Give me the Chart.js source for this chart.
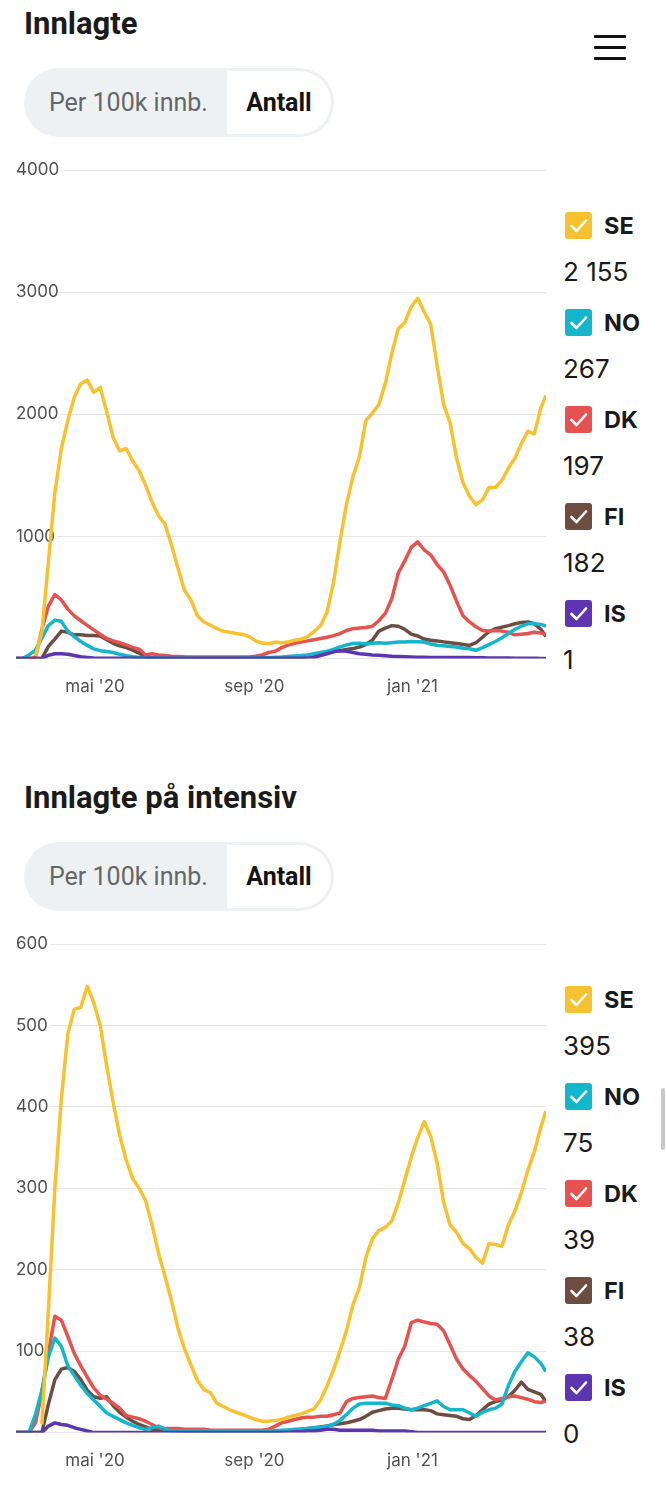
<!DOCTYPE html>
<html lang="no">
<head>
<meta charset="utf-8">
<title>Innlagte</title>
<script src="https://cdn.jsdelivr.net/npm/chart.js@4/dist/chart.umd.min.js"></script>
<style>
  body { margin: 0; background: #fff; font-family: Inter, Roboto, sans-serif; }
  #page { position: relative; width: 666px; height: 1499px; overflow: hidden; }
  .section { position: absolute; left: 0; width: 666px; height: 774px; }
  .title { position: absolute; left: 24px; top: 5px; margin: 0; font: 700 31px Roboto, sans-serif; line-height: 38px; color: #1b1b1b; white-space: nowrap; }
  .burger { position: absolute; left: 594px; top: 35px; width: 32px; }
  .burger span { display: block; height: 3px; background: #111; margin-bottom: 8px; border-radius: 1px; }
  .pill { position: absolute; left: 24px; top: 68px; width: 310px; height: 69px; border-radius: 35px; background: #eef1f4; overflow: hidden; }
  .pill .off { position: absolute; left: 25px; top: 0; font: 400 25px Roboto, sans-serif; line-height: 69px; color: #666; }
  .pill .on { position: absolute; right: 3px; top: 3px; bottom: 3px; width: 104px; background: #fff; border-radius: 0 32px 32px 0;
              text-align: center; font: 700 25px Roboto, sans-serif; line-height: 63px; color: #141414; }
  .chartbox { position: absolute; left: 16px; top: 155px; width: 530px; height: 566px; }
  .legend { position: absolute; left: 0; top: 0; }
  .lg-item { position: absolute; left: 565px; height: 28px; }
  .lg-item svg { position: absolute; left: 0; top: 0; }
  .lg-item b { position: absolute; left: 39px; top: 0; font: 700 23.5px Inter, sans-serif; line-height: 28px; color: #1b1b1b; }
  .lg-val { position: absolute; left: 563px; font: 400 26px Inter, sans-serif; line-height: 30px; color: #1b1b1b; white-space: nowrap; }
  .scroll { position: absolute; left: 661px; top: 1088px; width: 4px; height: 62px; background: #c9c9c9; border-radius: 2px; }
</style>
</head>
<body>
<div id="page">
  <div class="section" style="top:0">
    <h2 class="title">Innlagte</h2>
    <div class="burger"><span></span><span></span><span></span></div>
    <div class="pill"><span class="off">Per 100k innb.</span><span class="on">Antall</span></div>
    <div class="chartbox"><canvas id="chart1" width="530" height="566"></canvas></div>
    <div class="legend" id="legend1"></div>
  </div>
  <div class="section" style="top:774px">
    <h2 class="title">Innlagte på intensiv</h2>
    <div class="pill"><span class="off">Per 100k innb.</span><span class="on">Antall</span></div>
    <div class="chartbox"><canvas id="chart2" width="530" height="566"></canvas></div>
    <div class="legend" id="legend2"></div>
  </div>
  <div class="scroll"></div>
</div>

<script>
// days since 1 Mar 2020
const days = [
  0, 5, 10, 15, 20, 25, 30, 35, 40, 45,
  50, 55, 60, 65, 70, 75, 80, 85, 90, 95,
  100, 105, 110, 115, 120, 125, 130, 135, 140, 145,
  150, 155, 160, 165, 170, 175, 180, 185, 190, 195,
  200, 205, 210, 215, 220, 225, 230, 235, 240, 245,
  250, 255, 260, 265, 270, 275, 280, 285, 290, 295,
  300, 305, 310, 315, 320, 325, 330, 335, 340, 345,
  350, 355, 360, 365, 370, 375, 380, 385, 390, 395,
  400, 405, 409
];

const countries = ['SE', 'NO', 'DK', 'FI', 'IS'];
const colors = ['#f8c12f', '#14b6cc', '#e5524f', '#6d4c41', '#5e35b1'];
const drawOrder = [1, 2, 3, 4, 0];

// x axis ticks: 1 May 2020, 1 Sep 2020, 1 Jan 2021
const xTickDays = [61, 184, 306];
const xTickLabels = ["mai '20", "sep '20", "jan '21"];

// --- Innlagte (antall)
const seInnlagte = [
  null, null, null, 20, 220, 790, 1360, 1720, 1950, 2140,
  2250, 2280, 2180, 2220, 2020, 1810, 1700, 1720, 1620, 1540,
  1420, 1280, 1170, 1100, 930, 740, 560, 480, 350, 300,
  274, 246, 225, 215, 205, 198, 180, 145, 128, 122,
  135, 130, 135, 150, 158, 180, 220, 270, 380, 620,
  960, 1260, 1490, 1650, 1950, 2010, 2080, 2250, 2500, 2700,
  2750, 2880, 2950, 2840, 2735, 2400, 2080, 1930, 1640, 1440,
  1330, 1260, 1300, 1400, 1400, 1460, 1560, 1640, 1760, 1860,
  1840, 2050, 2155
];
const noInnlagte = [
  0, 0, 30, 70, 170, 270, 315, 305, 225, 180,
  140, 108, 80, 65, 58, 50, 35, 24, 15, 10,
  6, 5, 4, 4, 3, 3, 3, 3, 3, 3,
  3, 3, 3, 3, 3, 4, 4, 5, 6, 8,
  12, 14, 18, 22, 25, 30, 40, 50, 60, 75,
  95, 112, 123, 125, 120, 125, 130, 125, 130, 135,
  135, 140, 138, 135, 120, 110, 105, 100, 95, 85,
  80, 68, 90, 115, 140, 170, 205, 240, 265, 285,
  285, 280, 267
];
const dkInnlagte = [
  0, 0, 0, 10, 240, 430, 525, 480, 405, 350,
  310, 272, 235, 200, 165, 145, 130, 112, 92, 78,
  30, 40, 30, 25, 20, 18, 15, 14, 14, 14,
  14, 14, 14, 14, 14, 14, 14, 20, 30, 50,
  60, 90, 110, 125, 135, 145, 155, 165, 175, 188,
  205, 230, 245, 250, 255, 265, 310, 370, 490, 700,
  800, 910, 955, 890, 850, 770, 710, 600, 470, 350,
  300, 260, 230, 225, 230, 225, 215, 195, 200, 205,
  215, 210, 197
];
const fiInnlagte = [
  0, 0, 0, 0, 0, 100, 160, 225, 215, 195,
  195, 190, 190, 185, 155, 125, 105, 90, 70, 45,
  12, 8, 5, 5, 5, 5, 5, 5, 5, 5,
  5, 5, 5, 5, 5, 5, 5, 5, 5, 5,
  5, 5, 5, 5, 5, 15, 30, 40, 50, 58,
  65, 75, 82, 95, 115, 150, 225, 250, 270, 265,
  240, 200, 185, 160, 150, 145, 137, 130, 123, 115,
  108, 130, 175, 220, 245, 258, 270, 285, 295, 300,
  285, 240, 182
];
const isInnlagte = [
  0, 0, 0, 0, 0, 27, 40, 40, 35, 25,
  15, 10, 5, 2, 2, 2, 2, 2, 2, 2,
  2, 2, 2, 2, 2, 2, 2, 2, 2, 2,
  2, 2, 2, 2, 2, 2, 2, 2, 2, 2,
  2, 2, 2, 2, 2, 2, 10, 25, 40, 55,
  65, 60, 50, 40, 35, 30, 27, 24, 20, 18,
  16, 14, 12, 12, 10, 10, 9, 9, 8, 8,
  8, 7, 6, 5, 5, 4, 4, 3, 3, 2,
  2, 1, 1
];

// --- Innlagte på intensiv (antall)
const seIntensiv = [
  null, null, null, null, 10, 150, 300, 410, 490, 520,
  522, 548, 528, 500, 450, 405, 365, 335, 312, 300,
  285, 255, 220, 192, 162, 128, 103, 83, 64, 53,
  49, 36, 32, 28, 25, 22, 19, 16, 14, 14,
  15, 16, 19, 21, 23, 26, 29, 40, 57, 77,
  100, 125, 157, 178, 215, 238, 248, 252, 260, 282,
  310, 338, 362, 382, 364, 331, 283, 255, 246, 232,
  226, 215, 208, 232, 231, 229, 255, 272, 295, 322,
  345, 375, 395
];
const noIntensiv = [
  0, 0, 0, 22, 52, 93, 116, 106, 82, 70,
  58, 48, 40, 32, 24, 20, 16, 12, 9, 6,
  4, 6, 8, 4, 2, 2, 2, 2, 2, 2,
  2, 2, 2, 2, 2, 2, 2, 2, 2, 2,
  2, 3, 3, 4, 4, 5, 6, 6, 8, 10,
  15, 22, 30, 35, 36, 36, 36, 36, 34, 33,
  30, 28, 30, 33, 36, 39, 32, 28, 28, 28,
  24, 20, 25, 28, 30, 35, 58, 75, 87, 98,
  93, 85, 75
];
const dkIntensiv = [
  0, 0, 0, 12, 50, 98, 143, 138, 118, 97,
  82, 68, 55, 46, 41, 36, 30, 21, 19, 17,
  14, 10, 6, 5, 5, 5, 4, 4, 4, 4,
  3, 3, 3, 3, 3, 3, 3, 3, 3, 4,
  8, 12, 14, 16, 18, 19, 19, 20, 20, 22,
  24, 38, 42, 43, 44, 45, 43, 42, 65, 90,
  106, 135, 138, 136, 134, 133, 125, 108, 90, 78,
  70, 63, 54, 45, 40, 42, 44, 45, 43, 41,
  38, 37, 39
];
const fiIntensiv = [
  0, 0, 0, 0, 0, 35, 65, 78, 80, 75,
  65, 52, 44, 42, 44, 33, 25, 19, 14, 10,
  7, 4, 3, 3, 3, 3, 2, 2, 2, 2,
  2, 2, 2, 2, 2, 2, 2, 2, 2, 2,
  2, 2, 3, 3, 4, 5, 6, 7, 8, 10,
  11, 12, 14, 16, 20, 25, 27, 29, 30, 30,
  29, 28, 28, 28, 27, 23, 22, 21, 20, 17,
  16, 21, 28, 35, 38, 40, 44, 52, 62, 53,
  50, 47, 38
];
const isIntensiv = [
  0, 0, 0, 0, 0, 8, 12, 10, 9, 6,
  4, 2, 0, 0, 0, 0, 0, 0, 0, 0,
  0, 0, 0, 0, 0, 0, 0, 0, 0, 0,
  0, 0, 0, 0, 0, 0, 0, 0, 0, 0,
  0, 0, 0, 1, 1, 2, 2, 3, 4, 4,
  3, 3, 3, 3, 3, 3, 2, 2, 2, 2,
  2, 1, 0, 0, 0, 0, 0, 0, 0, 0,
  0, 0, 0, 0, 0, 0, 0, 0, 0, 0,
  0, 0, 0
];

const axisFont = { family: 'Inter', size: 17 };
const axisColor = '#505050';

function fmt(v) {
  return String(v).replace(/\B(?=(\d{3})+(?!\d))/g, ' ');
}

function makeChart(canvasId, series, yMax, yStep) {
  const datasets = countries.map((c, i) => ({
    label: c,
    data: days.map((d, k) => ({ x: d, y: series[i][k] })),
    borderColor: colors[i],
    backgroundColor: colors[i],
    borderWidth: 3.5,
    borderJoinStyle: 'round',
    pointRadius: 0,
    tension: 0,
    fill: false,
    order: drawOrder[i]
  }));

  return new Chart(document.getElementById(canvasId), {
    type: 'line',
    data: { datasets: datasets },
    options: {
      responsive: false,
      animation: false,
      layout: { padding: { top: 15, bottom: 6, left: 0, right: 0 } },
      plugins: { legend: { display: false }, tooltip: { enabled: false } },
      scales: {
        x: {
          type: 'linear',
          min: 0,
          max: 409,
          grid: { display: false, drawTicks: false },
          border: { display: false },
          afterBuildTicks: axis => { axis.ticks = xTickDays.map(v => ({ value: v })); },
          ticks: {
            autoSkip: false,
            maxRotation: 0,
            padding: 18,
            font: axisFont,
            color: axisColor,
            callback: v => xTickLabels[xTickDays.indexOf(v)]
          }
        },
        y: {
          min: 0,
          max: yMax,
          grid: { color: '#e6e6e6', lineWidth: 1, drawTicks: false },
          border: { display: false },
          ticks: {
            stepSize: yStep,
            mirror: true,
            padding: 0,
            font: axisFont,
            color: axisColor,
            showLabelBackdrop: true,
            backdropColor: ctx => ctx.tick && ctx.tick.value === 0 ? 'rgba(0,0,0,0)' : '#fff',
            backdropPadding: { x: 2, y: 0 },
            callback: v => v === 0 ? '' : String(v)
          }
        }
      }
    }
  });
}

function checkSvg(color) {
  return '<svg width="27" height="27" viewBox="0 0 27 27">' +
    '<rect x="0" y="0" width="27" height="27" rx="3" fill="' + color + '"/>' +
    '<polyline points="6.5,14 11.5,19 21,8.5" fill="none" stroke="#fff" stroke-width="2.6" stroke-linecap="round" stroke-linejoin="round"/>' +
    '</svg>';
}

function makeLegend(id, series) {
  const box = document.getElementById(id);
  let html = '';
  countries.forEach((c, i) => {
    const last = series[i][series[i].length - 1];
    html += '<div class="lg-item" style="top:' + (212 + 97 * i) + 'px">' + checkSvg(colors[i]) + '<b>' + c + '</b></div>';
    html += '<div class="lg-val" style="top:' + (257 + 97 * i) + 'px">' + fmt(last) + '</div>';
  });
  box.innerHTML = html;
}

const innlagte = [seInnlagte, noInnlagte, dkInnlagte, fiInnlagte, isInnlagte];
const intensiv = [seIntensiv, noIntensiv, dkIntensiv, fiIntensiv, isIntensiv];

makeChart('chart1', innlagte, 4000, 1000);
makeChart('chart2', intensiv, 600, 100);
makeLegend('legend1', innlagte);
makeLegend('legend2', intensiv);
</script>
</body>
</html>
